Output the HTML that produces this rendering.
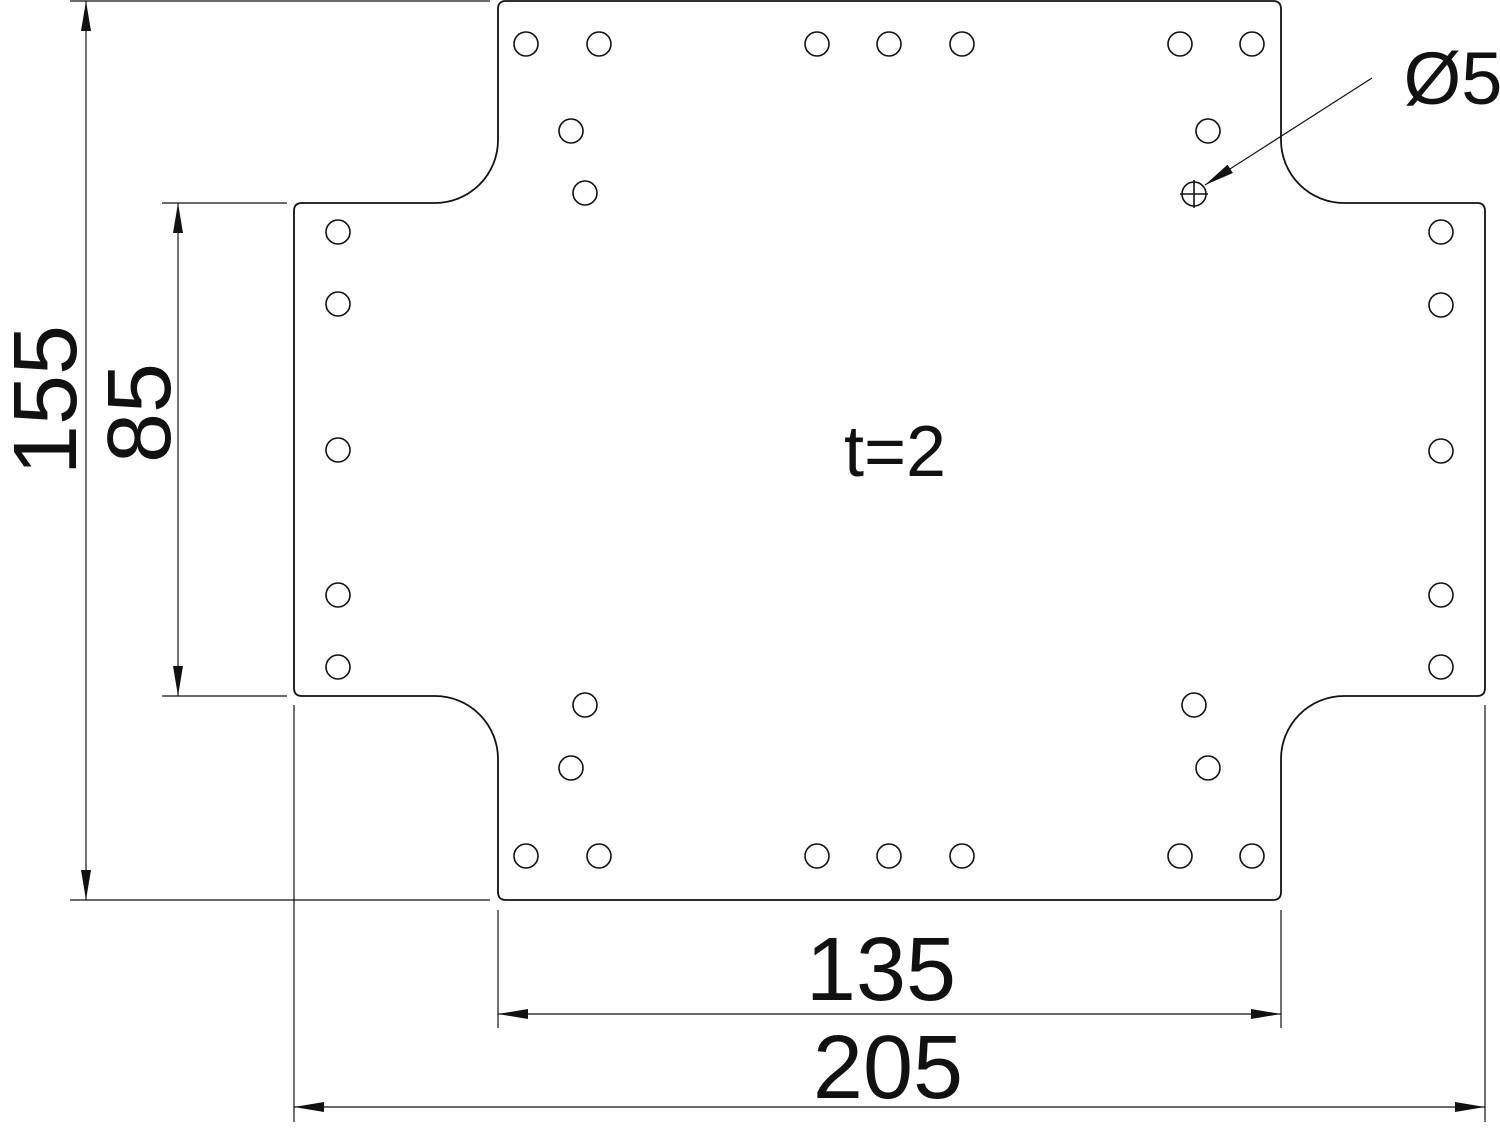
<!DOCTYPE html>
<html><head><meta charset="utf-8"><style>
html,body{margin:0;padding:0;background:#fff;}
svg{display:block;}
text{font-family:"Liberation Sans",Arial,sans-serif;fill:#111;}
</style></head><body>
<svg width="1500" height="1129" viewBox="0 0 1500 1129" xmlns="http://www.w3.org/2000/svg">
<defs>
<marker id="a" viewBox="0 0 30 10" refX="30" refY="5" markerWidth="30" markerHeight="10" markerUnits="userSpaceOnUse" orient="auto-start-reverse"><path d="M0,0 L30,5 L0,10 Z" fill="#111"/></marker>
</defs>
<g fill="none" stroke="#111" stroke-width="1.8">
<path d="M506,1 L1273,1 Q1281,1 1281,9 L1281,140 A63,63 0 0 0 1344,203 L1477,203 Q1485,203 1485,211 L1485,688 Q1485,696 1477,696 L1344,696 A63,63 0 0 0 1281,759 L1281,892 Q1281,900 1273,900 L506,900 Q498,900 498,892 L498,759 A63,63 0 0 0 435,696 L302,696 Q294,696 294,688 L294,211 Q294,203 302,203 L435,203 A63,63 0 0 0 498,140 L498,9 Q498,1 506,1 Z"/>
<g stroke-width="1.6">
<circle cx="526" cy="44" r="12"/><circle cx="599" cy="44" r="12"/><circle cx="817" cy="44" r="12"/><circle cx="889" cy="44" r="12"/><circle cx="962" cy="44" r="12"/><circle cx="1180" cy="44" r="12"/><circle cx="1252" cy="44" r="12"/>
<circle cx="571" cy="131" r="12"/><circle cx="1208" cy="131" r="12"/>
<circle cx="585" cy="193" r="12"/><circle cx="1194" cy="194" r="12"/>
<path d="M1180,194 H1208 M1194,180 V208"/>
<circle cx="338" cy="232" r="12"/><circle cx="338" cy="304" r="12"/><circle cx="338" cy="450" r="12"/><circle cx="338" cy="595" r="12"/><circle cx="338" cy="667" r="12"/>
<circle cx="1441" cy="232" r="12"/><circle cx="1441" cy="305" r="12"/><circle cx="1441" cy="451" r="12"/><circle cx="1441" cy="595" r="12"/><circle cx="1441" cy="667" r="12"/>
<circle cx="585" cy="705" r="12"/><circle cx="1194" cy="705" r="12"/>
<circle cx="571" cy="768" r="12"/><circle cx="1208" cy="768" r="12"/>
<circle cx="526" cy="856" r="12"/><circle cx="599" cy="856" r="12"/><circle cx="817" cy="856" r="12"/><circle cx="889" cy="856" r="12"/><circle cx="962" cy="856" r="12"/><circle cx="1180" cy="856" r="12"/><circle cx="1252" cy="856" r="12"/>
</g>
</g>
<g stroke="#111" stroke-width="1.2" fill="none">
<line x1="70" y1="1" x2="490" y2="1"/><line x1="70" y1="900" x2="490" y2="900"/>
<line x1="86" y1="1" x2="86" y2="900" marker-start="url(#a)" marker-end="url(#a)"/>
<line x1="162" y1="203" x2="287" y2="203"/><line x1="162" y1="696" x2="287" y2="696"/>
<line x1="178" y1="203" x2="178" y2="696" marker-start="url(#a)" marker-end="url(#a)"/>
<line x1="498" y1="910" x2="498" y2="1028"/><line x1="1281" y1="910" x2="1281" y2="1028"/>
<line x1="498" y1="1014" x2="1281" y2="1014" marker-start="url(#a)" marker-end="url(#a)"/>
<line x1="294" y1="705" x2="294" y2="1122"/><line x1="1485" y1="705" x2="1485" y2="1122"/>
<line x1="294" y1="1107" x2="1485" y2="1107" marker-start="url(#a)" marker-end="url(#a)"/>
<line x1="1372" y1="78" x2="1205" y2="185" marker-end="url(#a)"/>
</g>
<text x="895" y="476" font-size="72" text-anchor="middle">t=2</text>
<text x="881" y="1000" font-size="90" text-anchor="middle">135</text>
<text x="888" y="1098" font-size="90" text-anchor="middle">205</text>
<text x="1453" y="104" font-size="74" text-anchor="middle">Ø5</text>
<text transform="translate(76,400) rotate(-90)" font-size="90" text-anchor="middle">155</text>
<text transform="translate(170,413) rotate(-90)" font-size="90" text-anchor="middle">85</text>
</svg>
</body></html>
